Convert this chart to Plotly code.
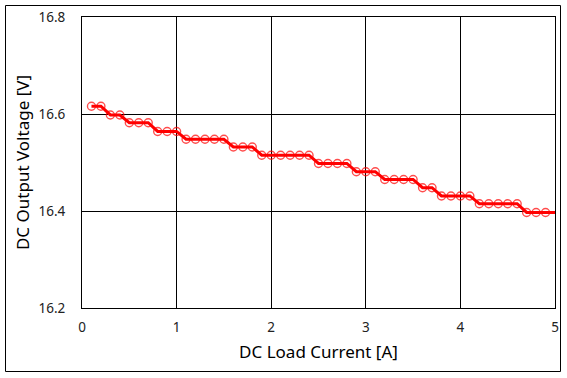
import plotly.graph_objects as go

current = [0.1, 0.2, 0.3, 0.4, 0.5, 0.6, 0.7, 0.8, 0.9, 1.0,
           1.1, 1.2, 1.3, 1.4, 1.5, 1.6, 1.7, 1.8, 1.9, 2.0,
           2.1, 2.2, 2.3, 2.4, 2.5, 2.6, 2.7, 2.8, 2.9, 3.0,
           3.1, 3.2, 3.3, 3.4, 3.5, 3.6, 3.7, 3.8, 3.9, 4.0,
           4.1, 4.2, 4.3, 4.4, 4.5, 4.6, 4.7, 4.8, 4.9, 5.0]
voltage = [16.616, 16.616, 16.598, 16.598, 16.582, 16.582, 16.582, 16.564, 16.564, 16.564,
           16.548, 16.548, 16.548, 16.548, 16.548, 16.532, 16.532, 16.532, 16.515, 16.515,
           16.515, 16.515, 16.515, 16.515, 16.498, 16.498, 16.498, 16.498, 16.481, 16.481,
           16.481, 16.465, 16.465, 16.465, 16.465, 16.448, 16.448, 16.431, 16.431, 16.431,
           16.431, 16.415, 16.415, 16.415, 16.415, 16.415, 16.397, 16.397, 16.397, 16.397]

x_ticks = [0, 1, 2, 3, 4, 5]
y_ticks = [16.2, 16.4, 16.6, 16.8]

# last sample sits on the right border in the original, where no circle is visible
marker_sizes = [8] * (len(current) - 1) + [0]

fig = go.Figure()
fig.add_trace(go.Scatter(
    x=current, y=voltage, mode="lines+markers",
    line=dict(color="#ff0000", width=3),
    marker=dict(symbol="circle-open", size=marker_sizes, color="#ff0000", line=dict(width=1.4)),
    cliponaxis=False, showlegend=False, hoverinfo="skip",
))

W, H = 567, 378
L, R, T, B = 82, 12, 17, 70
pw, ph = W - L - R, H - T - B

def px_to_paper_x(px):
    return (px - L) / pw

def px_to_paper_y(py):
    return (H - B - py) / ph

fig.add_shape(type="rect", xref="paper", yref="paper",
              x0=px_to_paper_x(5.5), x1=px_to_paper_x(560.5),
              y0=px_to_paper_y(371.5), y1=px_to_paper_y(5.5),
              line=dict(color="black", width=1), layer="below")

fig.update_layout(
    width=W, height=H,
    margin=dict(l=L, r=R, t=T, b=B, pad=0, autoexpand=False),
    paper_bgcolor="white", plot_bgcolor="white",
    font=dict(family="Noto Sans, Open Sans, sans-serif", color="#222222", size=13.5),
    xaxis=dict(range=[0, 5], tickvals=x_ticks, ticktext=[str(v) for v in x_ticks],
               showgrid=True, gridcolor="black", gridwidth=1,
               showline=True, linecolor="black", linewidth=1, mirror=True,
               zeroline=False, ticks="", ticklabelstandoff=7, automargin=False,
               title=dict(text="DC Load Current [A]", font=dict(size=17, color="black"), standoff=10)),
    yaxis=dict(range=[16.2, 16.8], tickvals=y_ticks, ticktext=[f"{v:.1f}" for v in y_ticks],
               showgrid=True, gridcolor="black", gridwidth=1,
               showline=True, linecolor="black", linewidth=1, mirror=True,
               zeroline=False, ticks="", ticklabelstandoff=13, automargin=False,
               title=dict(text="DC Output Voltage [V]", font=dict(size=17, color="black"), standoff=4)),
)

fig.write_html("out.html", config={"displayModeBar": False},
               post_script="document.body.style.margin='0';")
